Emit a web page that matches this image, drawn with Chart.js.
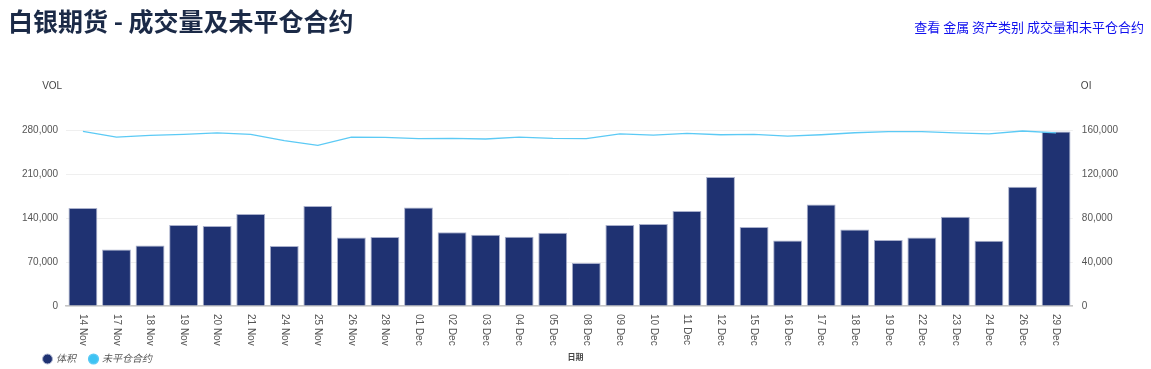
<!DOCTYPE html>
<html>
<head>
<meta charset="utf-8">
<script src="https://cdn.jsdelivr.net/npm/chart.js@4.4.1/dist/chart.umd.min.js"></script>
<style>
    body { margin: 0; background: #fff; font-family: "Liberation Sans", "Noto Sans CJK SC", sans-serif; }
    #title { position: absolute; left: 8px; top: 2px; font-size: 25px; font-weight: bold; color: #1b2a47; font-family: "Noto Sans CJK SC", sans-serif; }
    #link { position: absolute; right: 7px; top: 17px; font-size: 13px; color: #1010ee; font-family: "Noto Sans CJK SC", sans-serif; }
    #wrap { position: absolute; left: 0; top: 0; width: 1151px; height: 369px; }
</style>
</head>
<body>
<div id="wrap"><canvas id="volChart"></canvas></div>
<div id="title">白银期货 - 成交量及未平仓合约</div>
<div id="link">查看 金属 资产类别 成交量和未平仓合约</div>
<script>
var dates = ['14 Nov', '17 Nov', '18 Nov', '19 Nov', '20 Nov', '21 Nov', '24 Nov', '25 Nov', '26 Nov', '28 Nov',
    '01 Dec', '02 Dec', '03 Dec', '04 Dec', '05 Dec', '08 Dec', '09 Dec', '10 Dec', '11 Dec', '12 Dec',
    '15 Dec', '16 Dec', '17 Dec', '18 Dec', '19 Dec', '22 Dec', '23 Dec', '24 Dec', '26 Dec', '29 Dec'];
var volume = [155900, 90000, 96400, 128900, 127300, 146400, 95500, 159100, 109100, 109800,
    156900, 117400, 113400, 110300, 116600, 68400, 128900, 130500, 151100, 205200,
    125700, 104400, 161600, 121900, 105000, 109100, 142100, 103900, 189800, 277800];
var openInterest = [158700, 153600, 155100, 156000, 157300, 156000, 150300, 146000, 153600, 153300,
    152100, 152400, 151800, 153600, 152400, 152100, 156400, 155300, 156900, 155700,
    156000, 154500, 155700, 157500, 158500, 158500, 157300, 156400, 159100, 157300];
var volTicks = [0, 70000, 140000, 210000, 280000];
var oiTicks = [0, 40000, 80000, 120000, 160000];

var labelFont = '"Liberation Sans", "Noto Sans CJK SC", sans-serif';

// x labels read top to bottom, chart.js only rotates the other way
var extraText = {
    id: 'extraText',
    afterLayout: function (chart) {
        // push the legend right / down, under the axis labels
        chart.legend.left += 16;
        chart.legend.top += 5;
    },
    afterDraw: function (chart) {
        var ctx = chart.ctx;
        var xs = chart.scales.x;
        ctx.save();
        ctx.fillStyle = '#555';
        ctx.font = '10px ' + labelFont;
        ctx.textAlign = 'left';
        ctx.textBaseline = 'middle';
        var lbls = chart.data.labels;
        for (var i = 0; i < lbls.length; i++) {
            ctx.save();
            ctx.translate(xs.getPixelForTick(i), xs.top + 8);
            ctx.rotate(Math.PI / 2);
            ctx.fillText(lbls[i], 0, 0);
            ctx.restore();
        }
        ctx.fillStyle = '#444';
        ctx.font = '10px ' + labelFont;
        ctx.textAlign = 'right';
        ctx.fillText('VOL', chart.scales.y.right - 4, 86);
        ctx.textAlign = 'left';
        ctx.fillText('OI', chart.scales.y1.left + 8, 86);
        ctx.font = 'bold 8px ' + labelFont;
        ctx.textAlign = 'center';
        ctx.fillText('日期', chart.width / 2, 358);
        ctx.restore();
    }
};

var ctx = document.getElementById('volChart');
var myChart = new Chart(ctx, {
    data: {
        labels: dates,
        datasets: [{
                type: 'line',
                label: '未平仓合约',
                data: openInterest,
                yAxisID: 'y1',
                borderColor: '#5ccaf5',
                backgroundColor: '#3ec3f3',
                borderWidth: 1.3,
                pointRadius: 0,
                tension: 0,
                order: 0
            }, {
                type: 'bar',
                label: '体积',
                data: volume,
                yAxisID: 'y',
                backgroundColor: '#1f3272',
                borderColor: '#a9b0cc',
                borderWidth: 1,
                barPercentage: 0.86,
                categoryPercentage: 1,
                order: 1
            }]
    },
    plugins: [extraText],
    options: {
        responsive: true,
        maintainAspectRatio: false,
        animation: false,
        layout: {padding: {top: 130, left: 14, right: 24, bottom: 0}},
        plugins: {
            tooltip: {enabled: false},
            legend: {
                position: 'bottom',
                align: 'start',
                reverse: true,
                labels: {
                    usePointStyle: true,
                    pointStyle: 'circle',
                    boxWidth: 7,
                    boxHeight: 7,
                    padding: 14,
                    color: '#555',
                    font: {size: 10, style: 'italic', family: labelFont}
                }
            }
        },
        scales: {
            x: {
                grid: {display: false, drawTicks: false},
                border: {color: '#c6c6c6', width: 1.5},
                ticks: {minRotation: 90, maxRotation: 90, color: 'rgba(0,0,0,0)', font: {size: 10, family: labelFont}},
                afterFit: function (axis) {
                    axis.height = 29;
                }
            },
            y: {
                position: 'left',
                min: 0,
                max: 280000,
                afterBuildTicks: function (axis) {
                    axis.ticks = volTicks.map(function (v) { return {value: v}; });
                },
                grid: {color: '#efefef', drawTicks: false},
                border: {display: false},
                ticks: {color: '#555', font: {size: 10, family: labelFont}, padding: 8}
            },
            y1: {
                position: 'right',
                min: 0,
                max: 160000,
                afterBuildTicks: function (axis) {
                    axis.ticks = oiTicks.map(function (v) { return {value: v}; });
                },
                grid: {display: false, drawTicks: false},
                border: {display: false},
                ticks: {color: '#555', font: {size: 10, family: labelFont}, padding: 9}
            }
        }
    }
});
</script>
</body>
</html>
